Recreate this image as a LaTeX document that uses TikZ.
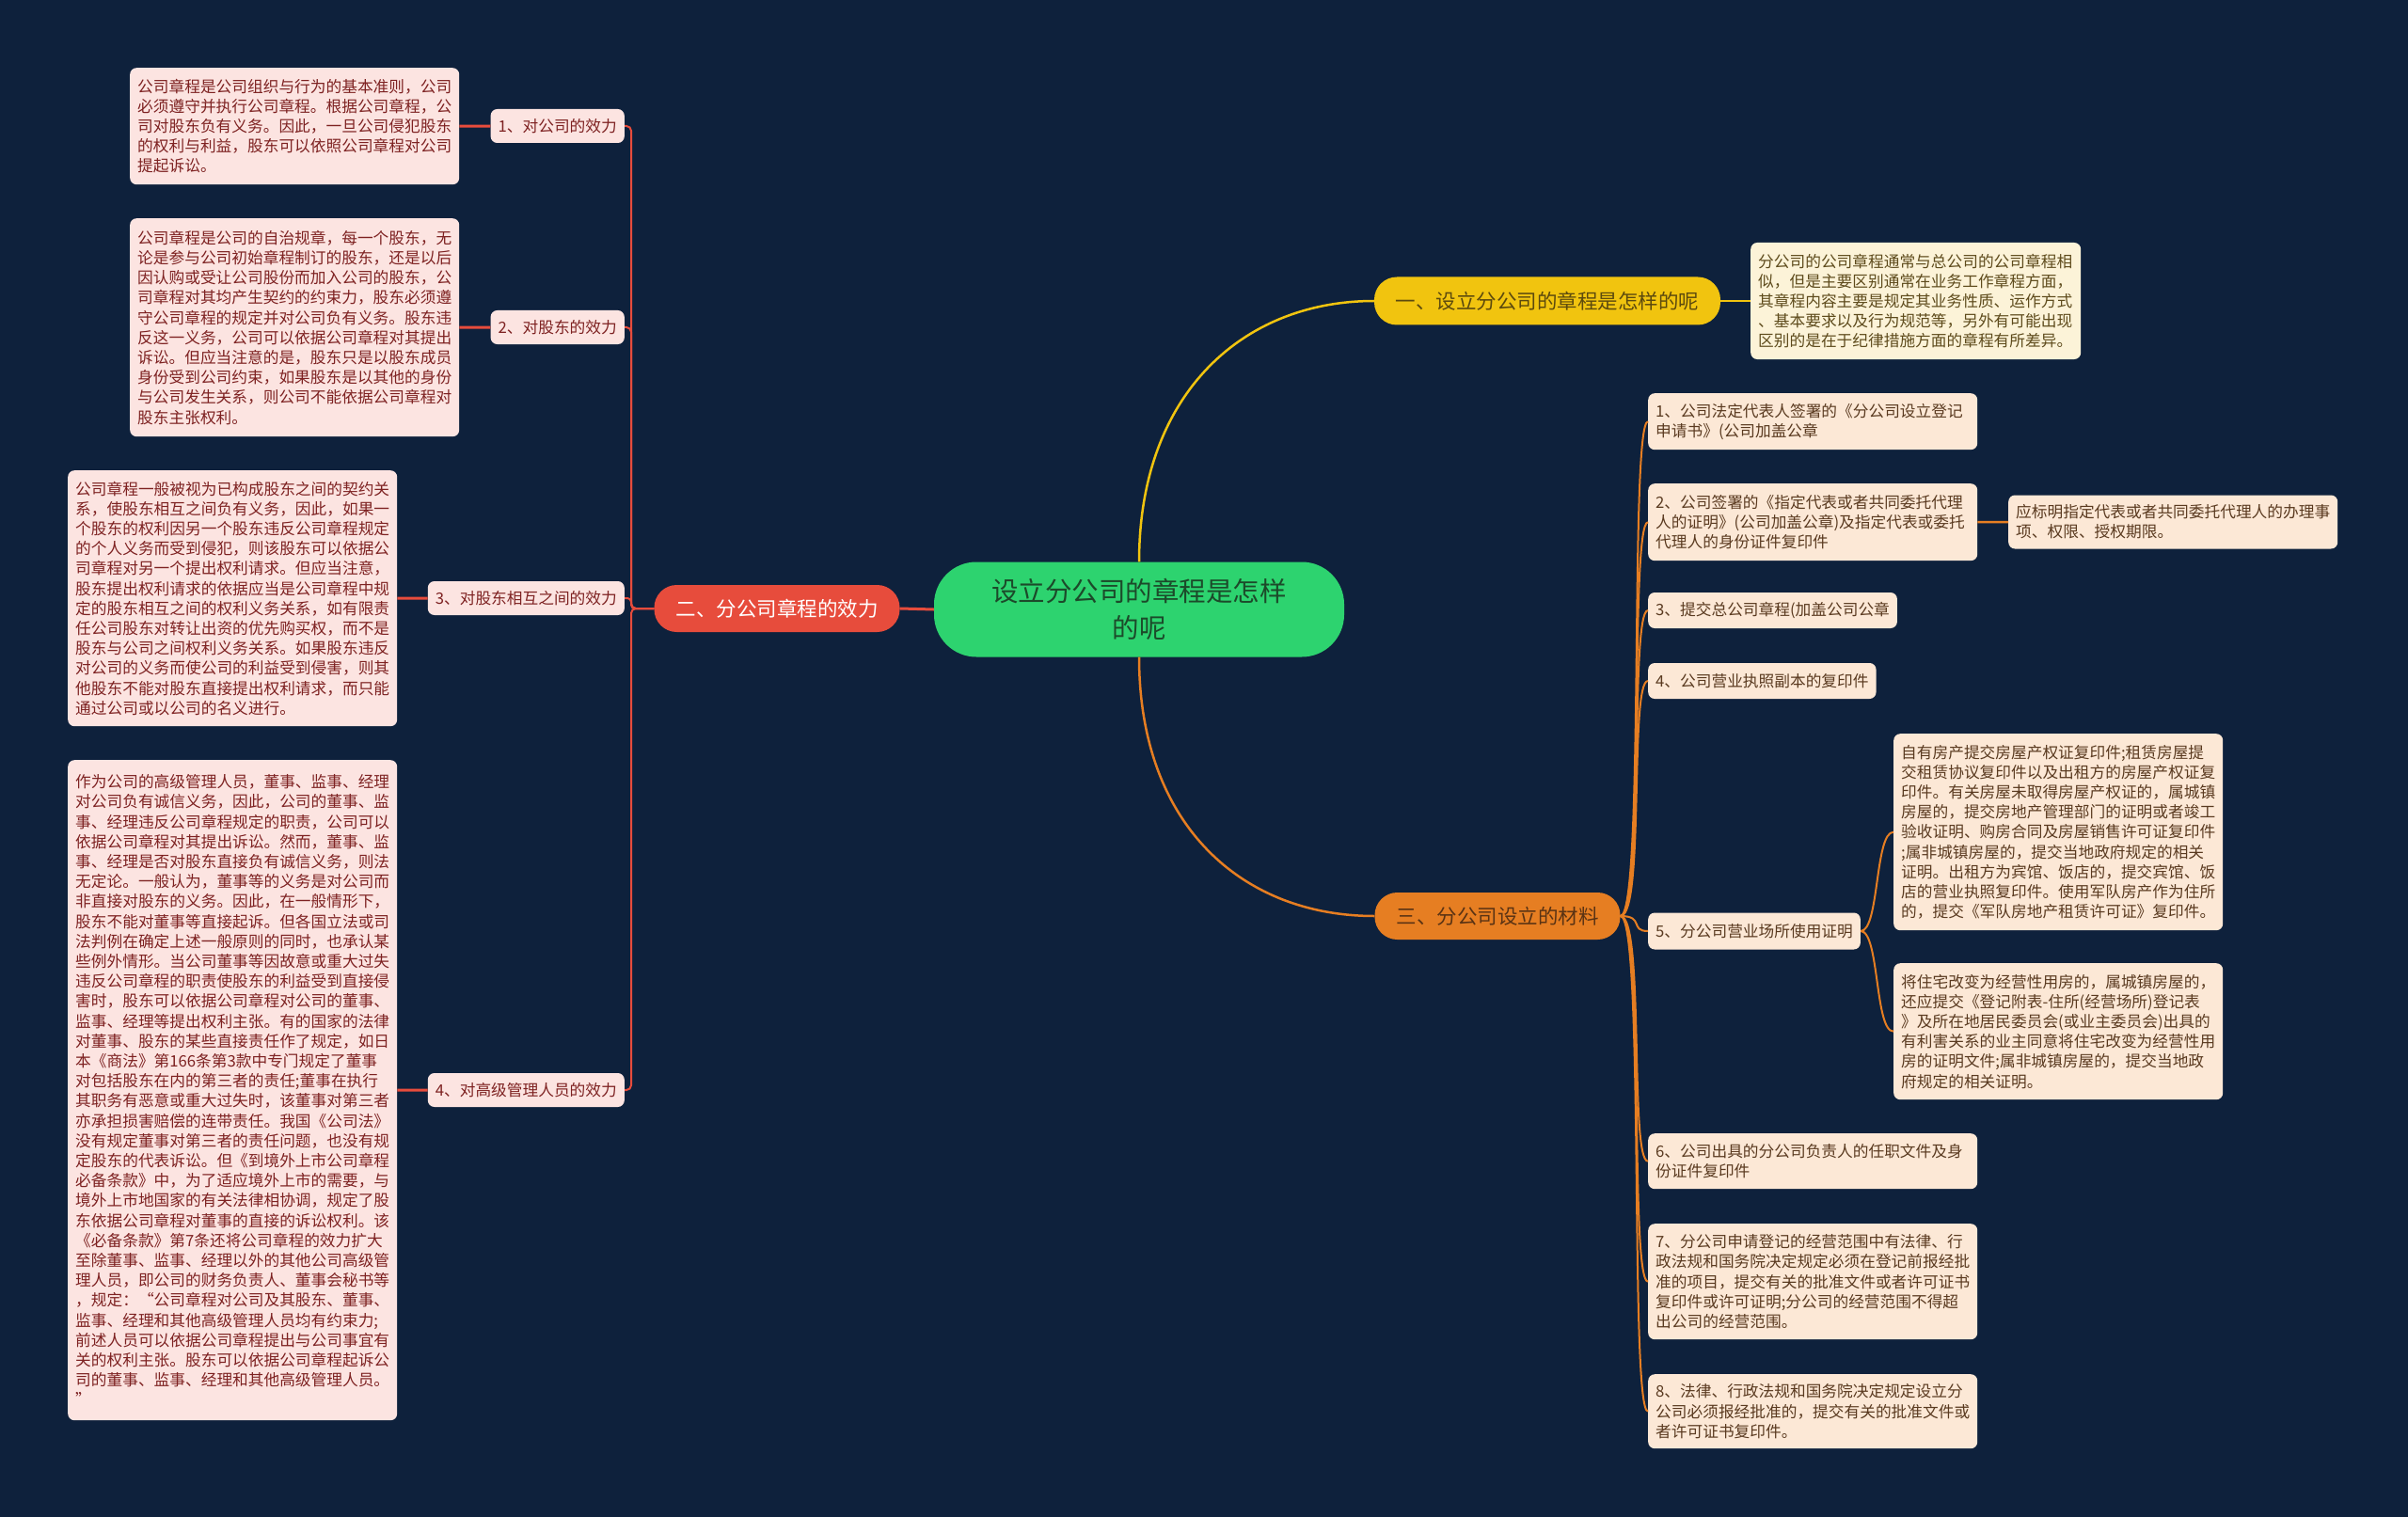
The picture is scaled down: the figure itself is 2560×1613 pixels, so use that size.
\documentclass[tikz,border=0pt]{standalone}
\usepackage{fontspec}
\setmainfont{Noto Sans CJK SC}
\definecolor{bgc}{HTML}{0E213C}
\definecolor{ctrfill}{HTML}{2DD36F}
\definecolor{ctrtext}{HTML}{1C4A2A}
\definecolor{yel}{HTML}{F1C40F}
\definecolor{yeltext}{HTML}{5C4A0E}
\definecolor{redc}{HTML}{E74C3C}
\definecolor{orc}{HTML}{E67E22}
\definecolor{ortext}{HTML}{5A3314}
\definecolor{pinkfill}{HTML}{FCE4E1}
\definecolor{pinktext}{HTML}{7E2222}
\definecolor{creamfill}{HTML}{FCF3D8}
\definecolor{creamtext}{HTML}{5E4B1C}
\definecolor{peachfill}{HTML}{FCE8D6}
\definecolor{peachtext}{HTML}{5A3A20}
\newcommand\fontDet{\fontsize{16.7}{21.2}\selectfont}
\newcommand\fontBr{\fontsize{21.5}{28}\selectfont}
\newcommand\fontCt{\fontsize{28.5}{39}\selectfont}
\tikzset{
  detL/.style={fill=pinkfill, text=pinktext, rounded corners=7pt, align=left, text width=334pt, inner xsep=8pt, inner ysep=0pt, font=\fontDet},
  labL/.style={fill=pinkfill, text=pinktext, rounded corners=7pt, inner xsep=8pt, inner ysep=0pt, minimum height=36pt, font=\fontDet},
  detY/.style={fill=creamfill, text=creamtext, rounded corners=7pt, align=left, text width=335pt, inner xsep=8pt, inner ysep=0pt, font=\fontDet},
  detO/.style={fill=peachfill, text=peachtext, rounded corners=7pt, align=left, text width=334pt, inner xsep=8pt, inner ysep=0pt, font=\fontDet},
  labO/.style={fill=peachfill, text=peachtext, rounded corners=7pt, inner xsep=8pt, inner ysep=0pt, minimum height=38pt, font=\fontDet},
  branchbox/.style={rounded corners=24pt, inner sep=0pt, minimum height=50pt, font=\fontBr},
  lineR/.style={draw=redc, line width=2pt},
  lineRt/.style={draw=redc, line width=3pt},
  lineY/.style={draw=yel, line width=2.5pt},
  lineO/.style={draw=orc, line width=2.5pt},
  lineOt/.style={draw=orc, line width=2pt},
}
\begin{document}
\begin{tikzpicture}[x=1pt,y=-1pt]
\fill[bgc] (0,0) rectangle (2560,1613);
\useasboundingbox (0,0) rectangle (2560,1613);

% centre and branches
\node[fill=ctrfill, text=ctrtext, rounded corners=45pt, minimum width=436pt, minimum height=101pt, inner sep=0pt, align=center, font=\fontCt] (c) at (1211,648) {设立分公司的章程是怎样\\的呢};
\node[branchbox, fill=redc, text=white, minimum width=261pt] (b2) at (826,647) {二、分公司章程的效力};
\node[branchbox, fill=yel, text=yeltext, minimum width=368pt, minimum height=51pt] (b1) at (1645,320) {一、设立分公司的章程是怎样的呢};
\node[branchbox, fill=orc, text=ortext, minimum width=261pt] (b3) at (1592,974) {三、分公司设立的材料};

% left details
\node[detL, minimum height=124pt, anchor=north west] (d1) at (138,72) {公司章程是公司组织与行为的基本准则，公司\\必须遵守并执行公司章程。根据公司章程，公\\司对股东负有义务。因此，一旦公司侵犯股东\\的权利与利益，股东可以依照公司章程对公司\\提起诉讼。};
\node[detL, minimum height=232pt, anchor=north west] (d2) at (138,232) {公司章程是公司的自治规章，每一个股东，无\\论是参与公司初始章程制订的股东，还是以后\\因认购或受让公司股份而加入公司的股东，公\\司章程对其均产生契约的约束力，股东必须遵\\守公司章程的规定并对公司负有义务。股东违\\反这一义务，公司可以依据公司章程对其提出\\诉讼。但应当注意的是，股东只是以股东成员\\身份受到公司约束，如果股东是以其他的身份\\与公司发生关系，则公司不能依据公司章程对\\股东主张权利。};
\node[detL, minimum height=272pt, anchor=north west] (d3) at (72,500) {公司章程一般被视为已构成股东之间的契约关\\系，使股东相互之间负有义务，因此，如果一\\个股东的权利因另一个股东违反公司章程规定\\的个人义务而受到侵犯，则该股东可以依据公\\司章程对另一个提出权利请求。但应当注意，\\股东提出权利请求的依据应当是公司章程中规\\定的股东相互之间的权利义务关系，如有限责\\任公司股东对转让出资的优先购买权，而不是\\股东与公司之间权利义务关系。如果股东违反\\对公司的义务而使公司的利益受到侵害，则其\\他股东不能对股东直接提出权利请求，而只能\\通过公司或以公司的名义进行。};
\node[detL, minimum height=702pt, anchor=north west] (d4) at (72,808) {作为公司的高级管理人员，董事、监事、经理\\对公司负有诚信义务，因此，公司的董事、监\\事、经理违反公司章程规定的职责，公司可以\\依据公司章程对其提出诉讼。然而，董事、监\\事、经理是否对股东直接负有诚信义务，则法\\无定论。一般认为，董事等的义务是对公司而\\非直接对股东的义务。因此，在一般情形下，\\股东不能对董事等直接起诉。但各国立法或司\\法判例在确定上述一般原则的同时，也承认某\\些例外情形。当公司董事等因故意或重大过失\\违反公司章程的职责使股东的利益受到直接侵\\害时，股东可以依据公司章程对公司的董事、\\监事、经理等提出权利主张。有的国家的法律\\对董事、股东的某些直接责任作了规定，如日\\本《商法》第166条第3款中专门规定了董事\\对包括股东在内的第三者的责任;董事在执行\\其职务有恶意或重大过失时，该董事对第三者\\亦承担损害赔偿的连带责任。我国《公司法》\\没有规定董事对第三者的责任问题，也没有规\\定股东的代表诉讼。但《到境外上市公司章程\\必备条款》中，为了适应境外上市的需要，与\\境外上市地国家的有关法律相协调，规定了股\\东依据公司章程对董事的直接的诉讼权利。该\\《必备条款》第7条还将公司章程的效力扩大\\至除董事、监事、经理以外的其他公司高级管\\理人员，即公司的财务负责人、董事会秘书等\\，规定：“公司章程对公司及其股东、董事、\\监事、经理和其他高级管理人员均有约束力;\\前述人员可以依据公司章程提出与公司事宜有\\关的权利主张。股东可以依据公司章程起诉公\\司的董事、监事、经理和其他高级管理人员。\\”};

\node[labL, anchor=east] (l1) at (664,134) {1、对公司的效力};
\node[labL, anchor=east] (l2) at (664,348) {2、对股东的效力};
\node[labL, anchor=east] (l3) at (664,636) {3、对股东相互之间的效力};
\node[labL, anchor=east] (l4) at (664,1159) {4、对高级管理人员的效力};

% yellow branch detail
\node[detY, minimum height=124pt, anchor=west] (r1) at (1861,320) {分公司的公司章程通常与总公司的公司章程相\\似，但是主要区别通常在业务工作章程方面，\\其章程内容主要是规定其业务性质、运作方式\\、基本要求以及行为规范等，另外有可能出现\\区别的是在于纪律措施方面的章程有所差异。};

% orange branch items
\node[detO, minimum height=60pt, anchor=north west] (i1) at (1752,418) {1、公司法定代表人签署的《分公司设立登记\\申请书》(公司加盖公章};
\node[detO, minimum height=82pt, anchor=north west] (i2) at (1752,514) {2、公司签署的《指定代表或者共同委托代理\\人的证明》(公司加盖公章)及指定代表或委托\\代理人的身份证件复印件};
\node[detO, minimum height=57pt, anchor=west] (i2s) at (2135,555) {应标明指定代表或者共同委托代理人的办理事\\项、权限、授权期限。};
\node[labO, anchor=west] (i3) at (1752,649) {3、提交总公司章程(加盖公司公章};
\node[labO, anchor=west] (i4) at (1752,724) {4、公司营业执照副本的复印件};
\node[labO, minimum height=39pt, anchor=west] (i5) at (1752,990) {5、分公司营业场所使用证明};
\node[detO, minimum height=209pt, anchor=north west] (i5a) at (2013,780) {自有房产提交房屋产权证复印件;租赁房屋提\\交租赁协议复印件以及出租方的房屋产权证复\\印件。有关房屋未取得房屋产权证的，属城镇\\房屋的，提交房地产管理部门的证明或者竣工\\验收证明、购房合同及房屋销售许可证复印件\\;属非城镇房屋的，提交当地政府规定的相关\\证明。出租方为宾馆、饭店的，提交宾馆、饭\\店的营业执照复印件。使用军队房产作为住所\\的，提交《军队房地产租赁许可证》复印件。};
\node[detO, minimum height=145pt, anchor=north west] (i5b) at (2013,1024) {将住宅改变为经营性用房的，属城镇房屋的，\\还应提交《登记附表-住所(经营场所)登记表\\》及所在地居民委员会(或业主委员会)出具的\\有利害关系的业主同意将住宅改变为经营性用\\房的证明文件;属非城镇房屋的，提交当地政\\府规定的相关证明。};
\node[detO, minimum height=59pt, anchor=north west] (i6) at (1752,1205) {6、公司出具的分公司负责人的任职文件及身\\份证件复印件};
\node[detO, minimum height=123pt, anchor=north west] (i7) at (1752,1301) {7、分公司申请登记的经营范围中有法律、行\\政法规和国务院决定规定必须在登记前报经批\\准的项目，提交有关的批准文件或者许可证书\\复印件或许可证明;分公司的经营范围不得超\\出公司的经营范围。};
\node[detO, minimum height=79pt, anchor=north west] (i8) at (1752,1461) {8、法律、行政法规和国务院决定规定设立分\\公司必须报经批准的，提交有关的批准文件或\\者许可证书复印件。};

% connectors: red branch
\draw[lineRt] (c.west) -- (b2.east);
\foreach \l in {l1,l2,l4} \draw[lineR, rounded corners=5pt] (b2.west) -- (671,647) |- (\l.east);
\draw[lineR, rounded corners=4pt] (b2.west) -- (671,647) |- (l3.east);
\draw[lineRt] (d1.east) -- (l1.west);
\draw[lineRt] (d2.east) -- (l2.west);
\draw[lineRt] (d3.east) -- (l3.west);
\draw[lineRt] (d4.east) -- (l4.west);

% yellow branch
\draw[lineY] (c.north) .. controls (1211,420) and (1320,320) .. (b1.west);
\draw[lineY] (b1.east) -- (r1.west);

% orange branch
\draw[lineO] (c.south) .. controls (1211,877) and (1320,974) .. (b3.west);
\foreach \i in {i1,i2,i3,i4,i5,i6,i7,i8} \draw[lineOt] (b3.east) .. controls +(26,0) and +(-20,0) .. (\i.west);
\draw[lineO] (i2.east) -- (i2s.west);
\foreach \i in {i5a,i5b} \draw[lineOt] (i5.east) .. controls +(20,0) and +(-20,0) .. (\i.west);
\end{tikzpicture}
\end{document}
